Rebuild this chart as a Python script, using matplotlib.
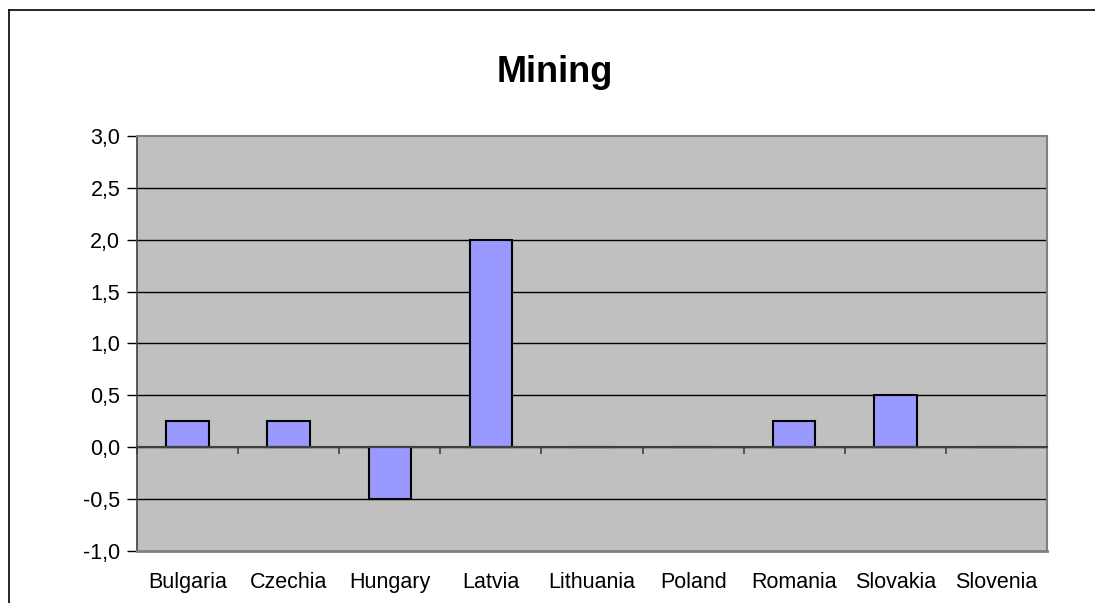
import numpy as np
import matplotlib
matplotlib.use("Agg")
import matplotlib.pyplot as plt
from matplotlib.lines import Line2D
from matplotlib.ticker import FuncFormatter
import matplotlib.transforms as mtransforms

plt.rcParams['font.family'] = ['Liberation Sans', 'DejaVu Sans']

countries = ["Bulgaria", "Czechia", "Hungary", "Latvia", "Lithuania",
             "Poland", "Romania", "Slovakia", "Slovenia"]
values = [0.25, 0.25, -0.5, 2.0, 0.0, 0.0, 0.25, 0.5, 0.0]
y_ticks = [-1.0, -0.5, 0.0, 0.5, 1.0, 1.5, 2.0, 2.5, 3.0]

fig = plt.figure(figsize=(10.95, 6.03), dpi=100)
fig.patch.set_facecolor("white")
ax = fig.add_axes([0.1251, 0.0862, 0.8311, 0.6883])
ax.set_facecolor("#C0C0C0")

x = np.arange(len(countries))
ax.set_xlim(-0.5, len(countries) - 0.5)
ax.set_ylim(y_ticks[0], y_ticks[-1])

# grid lines inside the plot area
for yv in y_ticks[1:-1]:
    ax.axhline(yv, color="black", linewidth=1.0, zorder=1)

ax.bar(x, values, width=0.42, color="#9999FF", edgecolor="black",
       linewidth=1.5, zorder=3)

# category axis sits on the zero line, ticks between categories
ax.spines["bottom"].set_position(("data", 0))
ax.spines["bottom"].set_color("#404040")
ax.spines["bottom"].set_linewidth(1.5)
ax.spines["bottom"].set_zorder(4)
ax.set_xticks(np.arange(-0.5, len(countries), 1.0))
ax.set_xticklabels([])
ax.tick_params(axis="x", direction="out", length=5, width=1.2, color="#404040")

ax.spines["left"].set_color("#404040")
ax.spines["left"].set_linewidth(1.2)
for s in ["top", "right"]:
    ax.spines[s].set_color("#808080")
    ax.spines[s].set_linewidth(1.5)
ax.axhline(y_ticks[0], color="#808080", linewidth=2.0, clip_on=False, zorder=5)

ax.set_yticks(y_ticks)
ax.yaxis.set_major_formatter(FuncFormatter(lambda v, p: f"{v:.1f}".replace(".", ",")))
ax.tick_params(axis="y", direction="out", length=7, width=1.0, pad=5,
               labelsize=15.5, color="black")

trans = mtransforms.blended_transform_factory(ax.transData, ax.transAxes)
for xi, name in zip(x, countries):
    ax.text(xi, -0.089, name, transform=trans, ha="center", va="baseline",
            fontsize=15.5)

fig.text(555 / 1095, 1 - 82 / 603, "Mining", ha="center", va="baseline",
         fontsize=26, fontweight="bold")

# outer frame of the chart
fig.add_artist(Line2D([9 / 1095, 9 / 1095], [0, 1 - 10 / 603],
                      transform=fig.transFigure, color="black", linewidth=1.2))
fig.add_artist(Line2D([9 / 1095, 1], [1 - 10 / 603, 1 - 10 / 603],
                      transform=fig.transFigure, color="black", linewidth=1.2))

fig.savefig("out.png", dpi=100)
